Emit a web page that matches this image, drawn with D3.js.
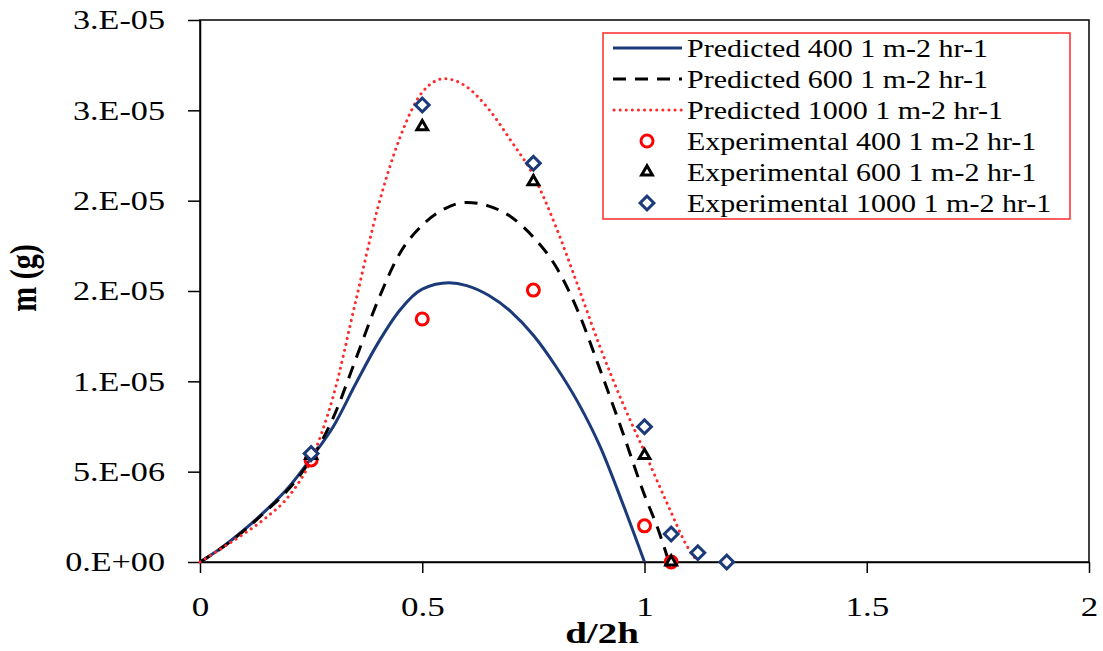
<!DOCTYPE html>
<html>
<head>
<meta charset="utf-8">
<script src="https://cdn.jsdelivr.net/npm/d3@7"></script>
<style>
  body { margin: 0; background: #fff; }
  text { font-family: "Liberation Serif", "Times New Roman", serif; fill: #000; }
</style>
</head>
<body>
<div id="chart"></div>
<script>
// ---- data ----
const pred400X = [0, 0.05, 0.1, 0.15, 0.2, 0.25, 0.3, 0.35, 0.4, 0.45, 0.5, 0.56, 0.6, 0.65, 0.7, 0.75, 0.8, 0.85, 0.9, 0.95, 1.0];
const pred400Y = [0, 0.82e-6, 1.8e-6, 2.9e-6, 4.15e-6, 5.75e-6, 7.5e-6, 9.85e-6, 1.21e-5, 1.395e-5, 1.51e-5, 1.545e-5, 1.53e-5, 1.475e-5, 1.385e-5, 1.255e-5, 1.085e-5, 8.85e-6, 6.4e-6, 3.3e-6, 0];

const pred600X = [0, 0.05, 0.1, 0.15, 0.2, 0.25, 0.3, 0.35, 0.4, 0.45, 0.5, 0.55, 0.6, 0.65, 0.7, 0.75, 0.8, 0.85, 0.9, 0.95, 1.0, 1.03, 1.055];
const pred600Y = [0, 0.8e-6, 1.75e-6, 2.85e-6, 4.05e-6, 5.7e-6, 8.0e-6, 1.12e-5, 1.445e-5, 1.71e-5, 1.864e-5, 1.955e-5, 1.99e-5, 1.97e-5, 1.91e-5, 1.798e-5, 1.638e-5, 1.39e-5, 1.065e-5, 7.24e-6, 3.71e-6, 1.85e-6, 0];

const pred1000X = [0, 0.05, 0.1, 0.15, 0.2, 0.25, 0.3, 0.35, 0.4, 0.45, 0.5, 0.55, 0.6, 0.65, 0.7, 0.75, 0.8, 0.85, 0.9, 0.95, 1.0, 1.05, 1.1, 1.12];
const pred1000Y = [0, 0.78e-6, 1.58e-6, 2.48e-6, 3.65e-6, 5.65e-6, 9.2e-6, 1.44e-5, 1.96e-5, 2.35e-5, 2.6e-5, 2.675e-5, 2.63e-5, 2.505e-5, 2.33e-5, 2.14e-5, 1.86e-5, 1.53e-5, 1.19e-5, 8.85e-6, 6.1e-6, 3.3e-6, 0.7e-6, 0];

const exp400X = [0.25, 0.5, 0.75, 1.0, 1.06];
const exp400Y = [5.65e-6, 1.345e-5, 1.505e-5, 2.0e-6, 0];
const exp600X = [0.25, 0.5, 0.75, 1.0, 1.06];
const exp600Y = [5.9e-6, 2.41e-5, 2.105e-5, 5.9e-6, 0];
const exp1000X = [0.25, 0.5, 0.75, 1.0, 1.06, 1.12, 1.185];
const exp1000Y = [6.0e-6, 2.53e-5, 2.207e-5, 7.49e-6, 1.55e-6, 5.1e-7, 0];

const xTicks = [0, 0.5, 1, 1.5, 2];
const xTickLabels = ['0', '0.5', '1', '1.5', '2'];
const yTicks = [0, 5e-6, 1e-5, 1.5e-5, 2e-5, 2.5e-5, 3e-5];
const yTickLabels = ['0.E+00', '5.E-06', '1.E-05', '2.E-05', '2.E-05', '3.E-05', '3.E-05'];

const legendLabels = [
  'Predicted 400 1 m-2 hr-1',
  'Predicted 600 1 m-2 hr-1',
  'Predicted 1000 1 m-2 hr-1',
  'Experimental 400 1 m-2 hr-1',
  'Experimental 600 1 m-2 hr-1',
  'Experimental 1000 1 m-2 hr-1'
];

const navy = '#1b3a7a';
const red = '#ff2a2a';

const width = 1103;
const height = 651;
const margin = {top: 20, right: 14, bottom: 89, left: 200};

const svg = d3.select('#chart')
  .append('svg')
  .attr('width', width)
  .attr('height', height);

const x = d3.scaleLinear().domain([0, 2]).range([margin.left, width - margin.right]);
const y = d3.scaleLinear().domain([0, 3e-5]).range([height - margin.bottom, margin.top]);

// widen text horizontally around its anchor (the picture is stretched sideways)
function stretch(sel, sx) {
  sel.each(function() {
    const tx = +(this.getAttribute('x') || 0);
    d3.select(this).attr('transform', `translate(${tx},0) scale(${sx},1) translate(${-tx},0)`);
  });
}

// frame
svg.append('rect')
  .attr('x', x(0)).attr('y', y(3e-5))
  .attr('width', x(2) - x(0)).attr('height', y(0) - y(3e-5))
  .attr('fill', 'none').attr('stroke', '#000').attr('stroke-width', 1.5);

// axes
const xAxis = svg.append('g')
  .attr('transform', `translate(0,${y(0)})`)
  .call(d3.axisBottom(x).tickValues(xTicks).tickFormat((d, i) => xTickLabels[i])
    .tickSize(11).tickSizeOuter(0).tickPadding(23));
const yAxis = svg.append('g')
  .attr('transform', `translate(${x(0)},0)`)
  .call(d3.axisLeft(y).tickValues(yTicks).tickFormat((d, i) => yTickLabels[i])
    .tickSize(12).tickSizeOuter(0).tickPadding(23));

[xAxis, yAxis].forEach(a => {
  a.select('.domain').attr('stroke', '#000').attr('stroke-width', 1.5);
  a.selectAll('.tick line').attr('stroke', '#000').attr('stroke-width', 1.5);
  a.selectAll('.tick text')
    .style('font-family', '"Liberation Serif", serif')
    .style('font-size', '28px')
    .attr('fill', '#000');
});
stretch(xAxis.selectAll('.tick text'), 1.25);
stretch(yAxis.selectAll('.tick text'), 1.22);

// axis titles
svg.append('text')
  .attr('x', 602).attr('y', 643)
  .attr('text-anchor', 'middle')
  .style('font-size', '30px').style('font-weight', 'bold')
  .text('d/2h')
  .call(stretch, 1.3);

svg.append('text')
  .attr('transform', 'translate(36,278) scale(1.25,1) rotate(-90)')
  .attr('text-anchor', 'middle')
  .style('font-size', '30px').style('font-weight', 'bold')
  .text('m (g)');

// predicted curves
const line = d3.line()
  .x(d => x(d[0]))
  .y(d => y(d[1]))
  .curve(d3.curveMonotoneX);

const zip = (xs, ys) => xs.map((v, i) => [v, ys[i]]);

svg.append('path')
  .datum(zip(pred400X, pred400Y))
  .attr('d', line)
  .attr('fill', 'none').attr('stroke', navy).attr('stroke-width', 3);

svg.append('path')
  .datum(zip(pred600X, pred600Y))
  .attr('d', line)
  .attr('fill', 'none').attr('stroke', '#000').attr('stroke-width', 3)
  .attr('stroke-dasharray', '13,9');

svg.append('path')
  .datum(zip(pred1000X, pred1000Y))
  .attr('d', line)
  .attr('fill', 'none').attr('stroke', red).attr('stroke-width', 3)
  .attr('stroke-linecap', 'round')
  .attr('stroke-dasharray', '0.1,6');

// experimental markers
const triangle = d3.symbol().type(d3.symbolTriangle).size(50);
const square = d3.symbol().type(d3.symbolSquare).size(95);

svg.append('g').selectAll('circle')
  .data(zip(exp400X, exp400Y))
  .enter().append('circle')
    .attr('cx', d => x(d[0]))
    .attr('cy', d => y(d[1]))
    .attr('r', 6)
    .attr('fill', 'none').attr('stroke', '#ff0000').attr('stroke-width', 3);

svg.append('g').selectAll('path')
  .data(zip(exp600X, exp600Y))
  .enter().append('path')
    .attr('d', triangle)
    .attr('transform', d => `translate(${x(d[0])},${y(d[1])})`)
    .attr('fill', '#fff').attr('stroke', '#000').attr('stroke-width', 3);

svg.append('g').selectAll('path')
  .data(zip(exp1000X, exp1000Y))
  .enter().append('path')
    .attr('d', square)
    .attr('transform', d => `translate(${x(d[0])},${y(d[1])}) rotate(45)`)
    .attr('fill', '#fff').attr('stroke', navy).attr('stroke-width', 3);

// legend
const legend = svg.append('g');
legend.append('rect')
  .attr('x', 603).attr('y', 33)
  .attr('width', 467).attr('height', 186)
  .attr('fill', '#fff').attr('stroke', red).attr('stroke-width', 1.5);

const rowY = i => 48 + i * 31;

legend.append('line')
  .attr('x1', 613).attr('x2', 682).attr('y1', rowY(0)).attr('y2', rowY(0))
  .attr('stroke', navy).attr('stroke-width', 3);
legend.append('line')
  .attr('x1', 613).attr('x2', 682).attr('y1', rowY(1)).attr('y2', rowY(1))
  .attr('stroke', '#000').attr('stroke-width', 3).attr('stroke-dasharray', '13,9');
legend.append('line')
  .attr('x1', 614).attr('x2', 682).attr('y1', rowY(2)).attr('y2', rowY(2))
  .attr('stroke', red).attr('stroke-width', 3)
  .attr('stroke-linecap', 'round').attr('stroke-dasharray', '0.1,6');
legend.append('circle')
  .attr('cx', 647).attr('cy', rowY(3)).attr('r', 6)
  .attr('fill', 'none').attr('stroke', '#ff0000').attr('stroke-width', 3);
legend.append('path')
  .attr('d', triangle)
  .attr('transform', `translate(647,${rowY(4)})`)
  .attr('fill', '#fff').attr('stroke', '#000').attr('stroke-width', 3);
legend.append('path')
  .attr('d', square)
  .attr('transform', `translate(647,${rowY(5)}) rotate(45)`)
  .attr('fill', '#fff').attr('stroke', navy).attr('stroke-width', 3);

legend.selectAll('text.lab')
  .data(legendLabels)
  .enter().append('text')
    .attr('class', 'lab')
    .attr('x', 687)
    .attr('y', (d, i) => rowY(i) + 9)
    .style('font-size', '25px')
    .text(d => d)
    .call(stretch, 1.2);
</script>
</body>
</html>
